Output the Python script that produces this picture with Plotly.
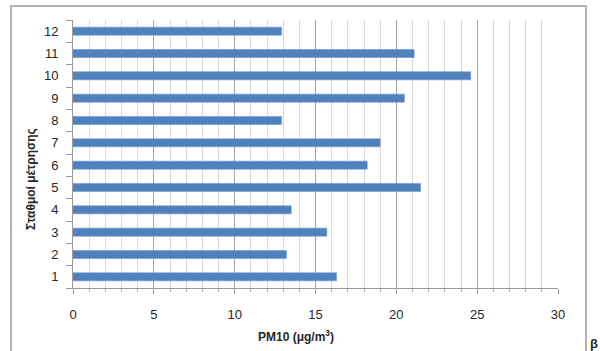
import plotly.graph_objects as go

# PM10 concentration per measuring station
stations = ["1", "2", "3", "4", "5", "6", "7", "8", "9", "10", "11", "12"]
pm10 = [16.3, 13.2, 15.7, 13.5, 21.5, 18.2, 19.0, 12.9, 20.5, 24.6, 21.1, 12.9]

x_ticks = [0, 5, 10, 15, 20, 25, 30]

W, H = 600, 351
L, R, T, B = 73, 42, 20, 63
pw, ph = W - L - R, H - T - B


def px_x(p):
    return (p - L) / pw


def px_y(p):
    return (H - B - p) / ph


text_color = "#262626"
font_family = "Liberation Sans, Arial, sans-serif"

fig = go.Figure(
    go.Bar(
        x=pm10,
        y=stations,
        orientation="h",
        width=0.36,
        marker=dict(color="#4F81BD", line=dict(color="#7096c8", width=0.6)),
    )
)

fig.update_layout(
    width=W,
    height=H,
    margin=dict(l=L, r=R, t=T, b=B),
    paper_bgcolor="white",
    plot_bgcolor="white",
    showlegend=False,
    font=dict(family=font_family, size=13, color=text_color),
    xaxis=dict(
        range=[0, 30],
        tickvals=x_ticks,
        ticktext=[str(v) for v in x_ticks],
        showgrid=True,
        gridcolor="#a6a6a6",
        gridwidth=1,
        zeroline=False,
        showline=True,
        linecolor="#9a9a9a",
        linewidth=1,
        ticks="outside",
        ticklen=5,
        tickcolor="#9a9a9a",
        ticklabelstandoff=9,
        minor=dict(
            dtick=1,
            showgrid=True,
            gridcolor="#d9d9d9",
            gridwidth=1,
            ticks="outside",
            ticklen=3,
            tickcolor="#b0b0b0",
        ),
        fixedrange=True,
    ),
    yaxis=dict(
        type="category",
        categoryorder="array",
        categoryarray=stations,
        showgrid=False,
        showline=True,
        linecolor="#9a9a9a",
        linewidth=1,
        ticks="outside",
        tickson="boundaries",
        ticklen=6,
        tickcolor="#9a9a9a",
        ticklabelstandoff=11,
        range=[-0.5, 11.5],
        fixedrange=True,
    ),
    shapes=[
        dict(
            type="rect",
            xref="paper",
            yref="paper",
            x0=px_x(11),
            x1=px_x(586),
            y0=px_y(360),
            y1=px_y(6),
            line=dict(color="#b3b3b3", width=2),
            fillcolor="rgba(0,0,0,0)",
            layer="below",
        )
    ],
    annotations=[
        dict(
            text="<b>PM10 (μg/m<sup>3</sup>)</b>",
            xref="paper",
            yref="paper",
            x=px_x(296),
            y=px_y(326),
            xanchor="center",
            yanchor="top",
            showarrow=False,
            font=dict(size=12, color=text_color),
        ),
        dict(
            text="<b>Σταθμοί μέτρησης</b>",
            xref="paper",
            yref="paper",
            x=px_x(31),
            y=px_y(179),
            xanchor="center",
            yanchor="middle",
            textangle=-90,
            showarrow=False,
            font=dict(size=12, color=text_color),
        ),
        dict(
            text="<b>β</b>",
            xref="paper",
            yref="paper",
            x=px_x(594),
            y=px_y(343),
            xanchor="center",
            yanchor="middle",
            showarrow=False,
            font=dict(size=13, color=text_color),
        ),
    ],
)

fig.write_html("out.html")
